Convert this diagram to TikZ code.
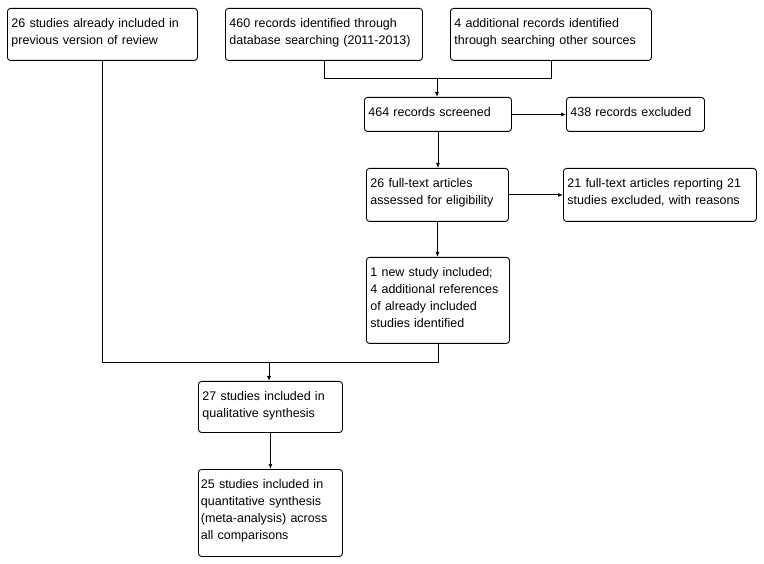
\documentclass[tikz,border=0pt]{standalone}
\usepackage{fontspec}
\setmainfont{Liberation Sans}
\usetikzlibrary{arrows.meta}

\tikzset{
    flowbox/.style={draw, line width=0.9pt, rounded corners=3pt, anchor=north west,
        align=left, inner xsep=4pt, inner ysep=4pt, text height=15pt,
        font=\fontsize{12.5}{17}\selectfont},
    flowline/.style={line width=0.9pt},
    flowarrow/.style={line width=0.9pt, -{Latex[length=5pt,width=4pt]}}
}

\begin{document}
\begin{tikzpicture}[x=1pt, y=-1pt]
    \useasboundingbox (0,0) rectangle (764,564);

    % Sources
    \node[flowbox, text width=182pt, text depth=29pt] (prev) at (7,8)
        {26 studies already included in\\previous version of review};
    \node[flowbox, text width=189pt, text depth=29pt] (db) at (225,8)
        {460 records identified through\\database searching (2011-2013)};
    \node[flowbox, text width=193pt, text depth=29pt] (other) at (450,8)
        {4 additional records identified\\through searching other sources};

    % Screening
    \node[flowbox, text width=139pt, text depth=11pt] (screened) at (364,97)
        {464 records screened};
    \node[flowbox, text width=130pt, text depth=11pt] (excluded) at (566,97)
        {438 records excluded};

    % Eligibility
    \node[flowbox, text width=134pt, text depth=30pt] (fulltext) at (366,168)
        {26 full-text articles\\assessed for eligibility};
    \node[flowbox, text width=185pt, text depth=30pt] (fullexcl) at (563,168)
        {21 full-text articles reporting 21\\studies excluded, with reasons};
    \node[flowbox, text width=135pt, text depth=63pt] (newstudy) at (366,257)
        {1 new study included;\\4 additional references\\of already included\\studies identified};

    % Included
    \node[flowbox, text width=136pt, text depth=28pt] (qual) at (198,381)
        {27 studies included in\\qualitative synthesis};
    \node[flowbox, inner xsep=2.5pt, text width=139pt, text depth=64pt] (quant) at (198,469)
        {25 studies included in\\quantitative synthesis\\(meta-analysis) across\\all comparisons};

    % Junctions
    \coordinate (topjoin) at (437,78);
    \coordinate (lowjoin) at (269,362);

    % Connectors
    \draw[flowline] (db.south) |- (topjoin);
    \draw[flowline] (other.south) |- (topjoin);
    \draw[flowarrow] (topjoin) -- (topjoin |- screened.north);
    \draw[flowarrow] (screened) -- (excluded);
    \draw[flowarrow] (screened.south) -- (screened.south |- fulltext.north);
    \draw[flowarrow] (fulltext) -- (fullexcl);
    \draw[flowarrow] (fulltext.south) -- (fulltext.south |- newstudy.north);
    \draw[flowline] (prev.south) |- (lowjoin);
    \draw[flowline] (newstudy.south) |- (lowjoin);
    \draw[flowarrow] (lowjoin) -- (lowjoin |- qual.north);
    \draw[flowarrow] (qual.south) -- (qual.south |- quant.north);
\end{tikzpicture}
\end{document}
